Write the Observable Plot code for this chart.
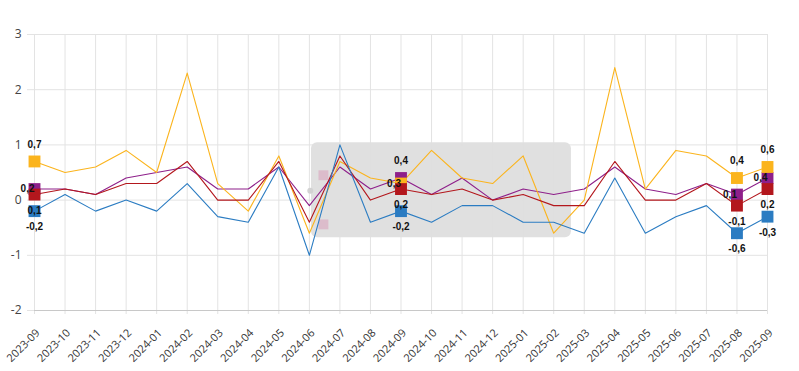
<!DOCTYPE html>
<html>
<head>
<meta charset="utf-8">
<script src="https://cdn.jsdelivr.net/npm/d3@7"></script>
<script src="https://cdn.jsdelivr.net/npm/@observablehq/plot@0.6"></script>
<style>
  html, body { margin: 0; padding: 0; background: #fff; }
  #chart svg { display: block; }
</style>
</head>
<body>
<div id="chart"></div>
<script>
const months = ["2023-09","2023-10","2023-11","2023-12","2024-01","2024-02","2024-03","2024-04","2024-05","2024-06","2024-07","2024-08","2024-09","2024-10","2024-11","2024-12","2025-01","2025-02","2025-03","2025-04","2025-05","2025-06","2025-07","2025-08","2025-09"];
const yellowValues = [0.7,0.5,0.6,0.9,0.5,2.3,0.3,-0.2,0.8,-0.6,0.7,0.4,0.3,0.9,0.4,0.3,0.8,-0.6,0.0,2.4,0.2,0.9,0.8,0.4,0.6];
const purpleValues = [0.2,0.2,0.1,0.4,0.5,0.6,0.2,0.2,0.6,-0.1,0.6,0.2,0.4,0.1,0.4,0.0,0.2,0.1,0.2,0.6,0.2,0.1,0.3,0.1,0.4];
const redValues    = [0.1,0.2,0.1,0.3,0.3,0.7,0.0,0.0,0.7,-0.4,0.8,0.0,0.2,0.1,0.2,0.0,0.1,-0.1,-0.1,0.7,0.0,0.0,0.3,-0.1,0.2];
const blueValues   = [-0.2,0.1,-0.2,0.0,-0.2,0.3,-0.3,-0.4,0.6,-1.0,1.0,-0.4,-0.2,-0.4,-0.1,-0.1,-0.4,-0.4,-0.6,0.4,-0.6,-0.3,-0.1,-0.6,-0.3];
const seriesNames  = ["purple","yellow","red","blue"];   // draw order
const seriesColors = {yellow:"#fbb41d", purple:"#8e1f8a", red:"#b3171d", blue:"#2b7cc2"};
const labeledMonths = ["2023-09","2024-09","2025-08","2025-09"];
const yTicks = [-2,-1,0,1,2,3];
const yTickLabels = ["-2","-1","0","1","2","3"];
// faded tooltip seen in the picture (data coordinates: month index, value)
const tooltipBox = [{x1: 9.07, x2: 17.58, y1: -0.68, y2: 1.04}];
const tooltipSwatches = [{i: 9.46, v: 0.45}, {i: 9.46, v: -0.44}];
const tooltipPointer = [{i: 9.03, v: 0.17}];

const valuesBy = {yellow: yellowValues, purple: purpleValues, red: redValues, blue: blueValues};
const rows = [];
for (const s of seriesNames) valuesBy[s].forEach((v, i) => rows.push({s, i, month: months[i], v}));

const labeledIdx = labeledMonths.map(m => months.indexOf(m));
const points = rows.filter(d => labeledIdx.includes(d.i));
for (const d of points) {
  const vals = seriesNames.map(s => valuesBy[s][d.i]).sort((a, b) => b - a);
  d.rank = vals.indexOf(d.v);
}
const fmt = v => v.toFixed(1).replace(".", ",");
const above = points.filter(d => d.rank === 0);
const left = points.filter(d => d.rank === 1);
const below = points.filter(d => d.rank >= 2);
const labelFont = {fontSize: 10, fontWeight: "bold", fill: "#111", fontFamily: "'Liberation Sans', Arial, sans-serif"};

const chart = Plot.plot({
  width: 799,
  height: 371,
  marginLeft: 34,
  marginRight: 32,
  marginTop: 34,
  marginBottom: 61,
  style: {fontFamily: "'Open Sans', sans-serif", background: "#fff"},
  x: {domain: [0, 24], axis: null},
  y: {domain: [-2, 3], axis: null},
  marks: [
    Plot.ruleX(d3.range(months.length), {x: d => d, stroke: "#e3e3e3", insetBottom: -4}),
    Plot.ruleY(yTicks, {y: d => d, stroke: "#e3e3e3", insetLeft: -7}),
    Plot.ruleY([-2], {stroke: "#c8c8c8"}),
    Plot.rect(tooltipBox, {x1: "x1", x2: "x2", y1: "y1", y2: "y2", fill: "#dedede", fillOpacity: 0.95, rx: 6}),
    Plot.dot(tooltipPointer, {x: "i", y: "v", r: 3, fill: "#d2d2d2"}),
    Plot.dot(tooltipSwatches, {x: "i", y: "v", symbol: "square", r: 5.6, fill: "#dcbccb"}),
    Plot.text(yTicks, {y: d => d, text: (d, k) => yTickLabels[k], frameAnchor: "left", textAnchor: "end", dx: -13, fontSize: 12, fill: "#444"}),
    Plot.text(d3.range(months.length), {x: d => d, text: i => months[i], frameAnchor: "bottom", rotate: -45, textAnchor: "end", dx: 6, dy: 23, fontSize: 11, fill: "#333"}),
    Plot.line(rows, {x: "i", y: "v", z: "s", stroke: d => seriesColors[d.s], strokeWidth: 1.1}),
    Plot.dot(points, {x: "i", y: "v", symbol: "square", r: 6.7, fill: d => seriesColors[d.s]}),
    Plot.text(above, {x: "i", y: "v", text: d => fmt(d.v), dy: -17, ...labelFont}),
    Plot.text(left, {x: "i", y: "v", text: d => fmt(d.v), textAnchor: "end", ...labelFont}),
    Plot.text(below, {x: "i", y: "v", text: d => fmt(d.v), dy: 16, ...labelFont})
  ]
});
document.getElementById("chart").appendChild(chart);
</script>
</body>
</html>
